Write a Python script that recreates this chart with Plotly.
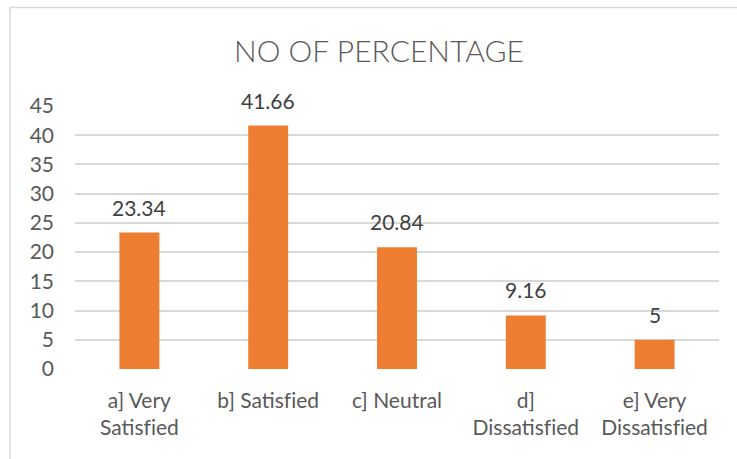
import plotly.graph_objects as go

ZWNJ = "\u200c"  # prevents the "fi" ligature

categories = ["a] Very Satisfied", "b] Satisfied", "c] Neutral", "d] Dissatisfied", "e] Very Dissatisfied"]
tick_labels = ["a] Very<br>Satisf" + ZWNJ + "ied", "b] Satisf" + ZWNJ + "ied", "c] Neutral",
               "d]<br>Dissatisf" + ZWNJ + "ied", "e] Very<br>Dissatisf" + ZWNJ + "ied"]
values = [23.34, 41.66, 20.84, 9.16, 5]
value_labels = ["23.34", "41.66", "20.84", "9.16", "5"]

FONT = "Lato"
TXT = "#595959"

fig = go.Figure()
fig.add_trace(go.Bar(
    x=categories, y=values,
    marker=dict(color="#ED7D31", line=dict(width=0)),
    hoverinfo="skip",
))

for c, v, t in zip(categories, values, value_labels):
    fig.add_annotation(x=c, y=v, text=t, showarrow=False, yanchor="bottom",
                       yshift=11, font=dict(family=FONT, size=21, color="#404040"))

# chart border (partially outside view)
fig.add_shape(type="rect", xref="paper", yref="paper",
              x0=(10 - 75) / 644, x1=1.2, y0=-0.6, y1=(369 - 7) / 263.3,
              line=dict(color="#D9D9D9", width=1.5), layer="below")

fig.update_layout(
    width=737, height=459,
    margin=dict(l=75, r=18, t=106, b=90, autoexpand=False),
    paper_bgcolor="white", plot_bgcolor="white",
    showlegend=False,
    bargap=0.69,
    title=dict(text="NO OF PERCENTAGE", x=(379) / 737, xanchor="center",
               y=1 - 51 / 459, yanchor="middle",
               font=dict(family=FONT, size=30, color=TXT, weight=300)),
    font=dict(family=FONT, color=TXT),
)
fig.update_xaxes(
    tickmode="array", tickvals=categories, ticktext=tick_labels,
    tickfont=dict(family=FONT, size=21, color=TXT),
    showgrid=False, showline=False, zeroline=False, ticks="",
    ticklabelstandoff=17,
)
fig.update_yaxes(
    range=[0, 45], dtick=5, tick0=0,
    tickfont=dict(family=FONT, size=21, color=TXT),
    showgrid=True, gridcolor="#D9D9D9", gridwidth=1.5,
    showline=False, zeroline=False, ticks="",
    ticklabelstandoff=20,
)

fig.write_html("out.html")
